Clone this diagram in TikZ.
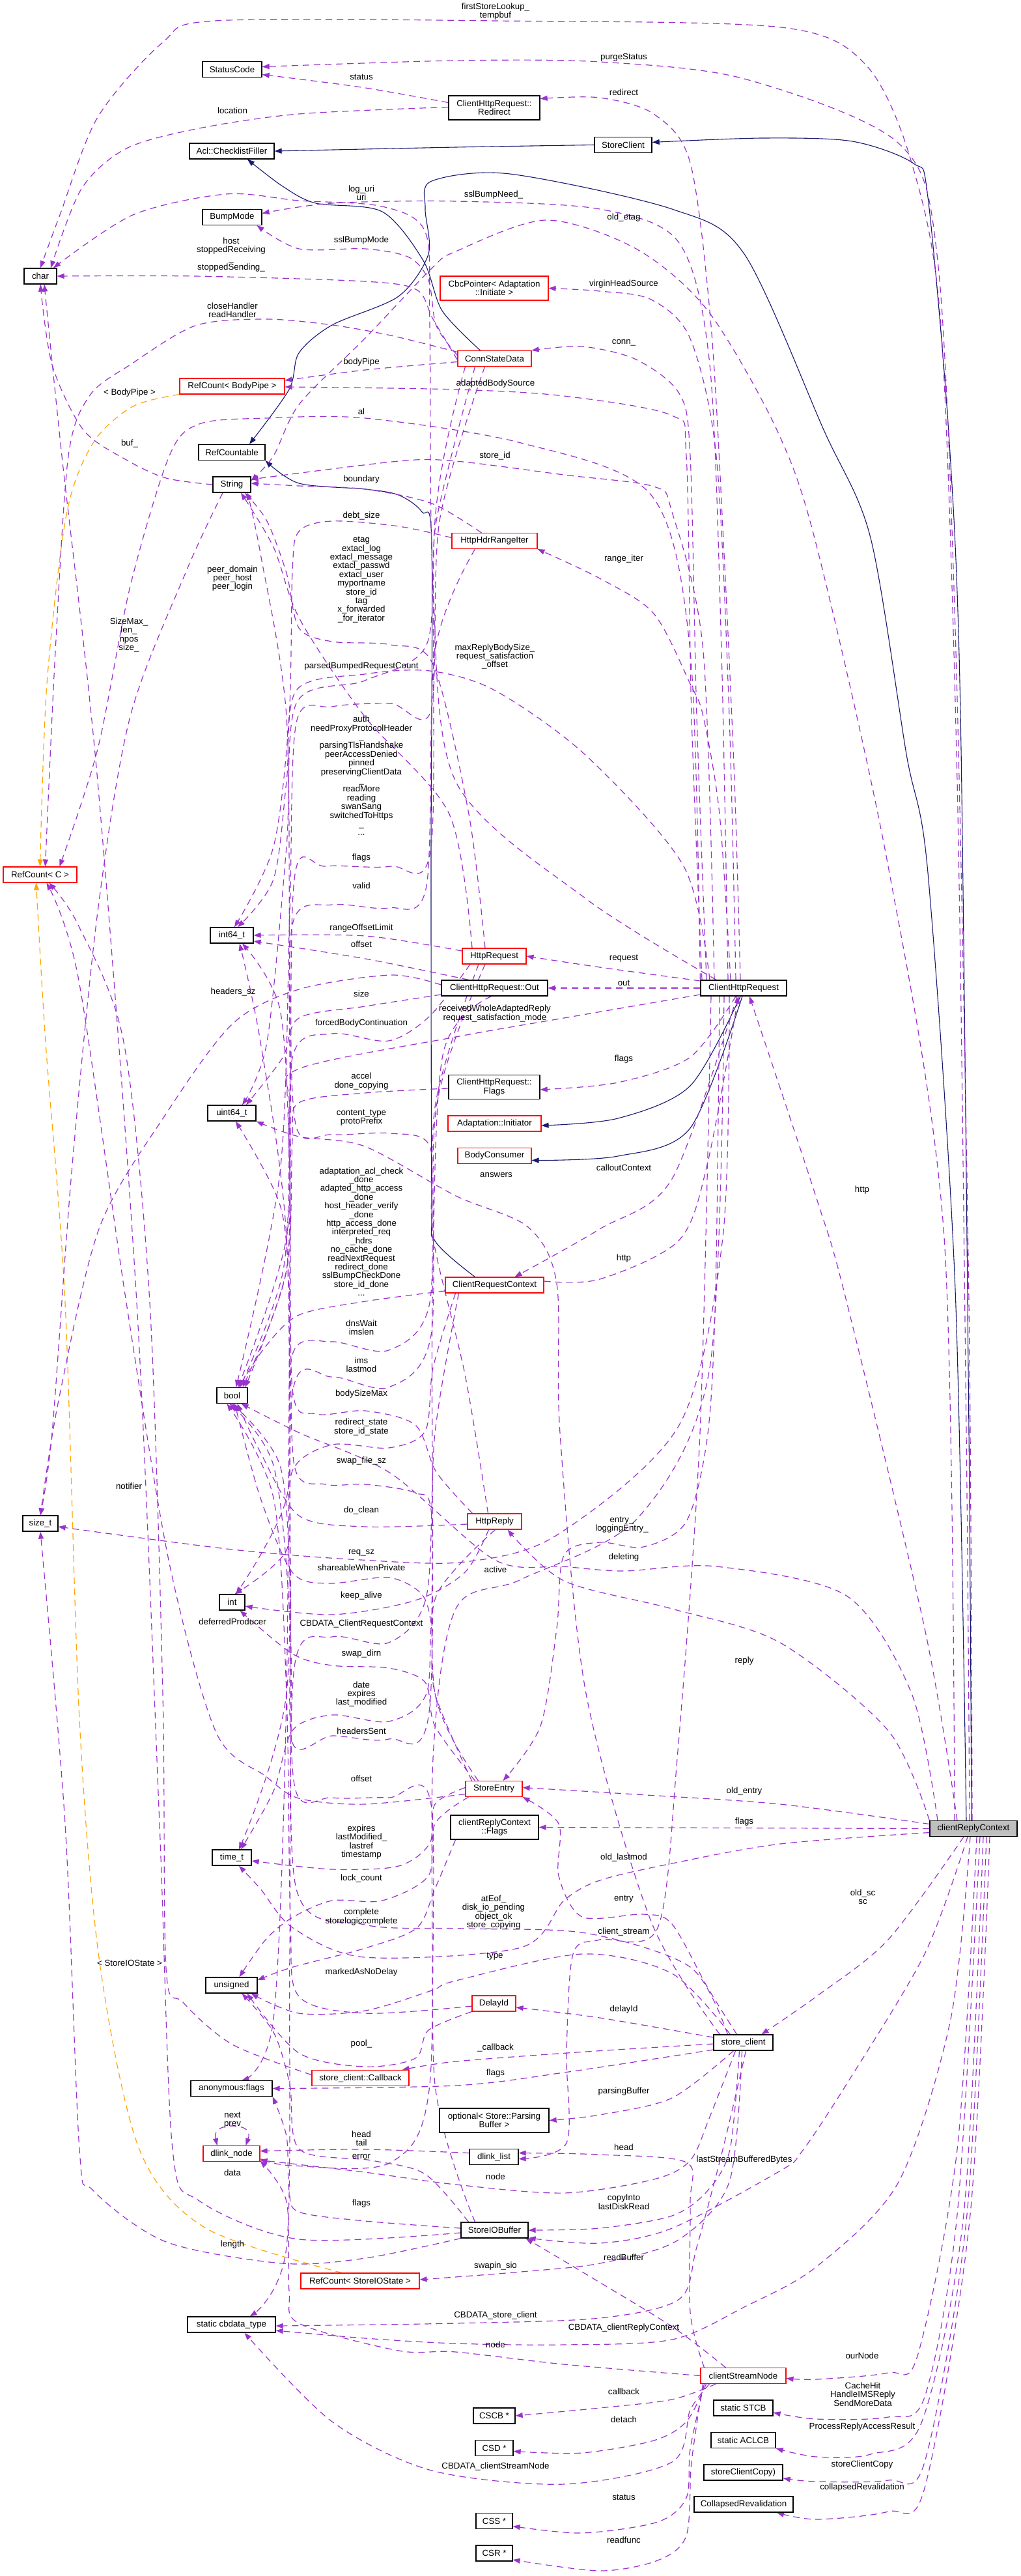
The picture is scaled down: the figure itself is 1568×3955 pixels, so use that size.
\documentclass[tikz,border=0pt]{standalone}
\usepackage{fontspec}
\setmainfont{Liberation Sans}
\usetikzlibrary{arrows.meta}
\definecolor{edgepurple}{HTML}{9A32CD}
\definecolor{edgenavy}{HTML}{191970}
\definecolor{edgeorange}{HTML}{FFA500}
\newcommand\dxfont{\fontsize{13.3pt}{13.4pt}\selectfont}
\pgfdeclarelayer{background}
\pgfsetlayers{background,main}

\begin{document}
\begin{tikzpicture}[x=1pt, y=-1pt,
    dxnode/.style={draw=black, line width=1.3pt, fill=white, font=\dxfont, align=center, inner xsep=2pt, inner ysep=2pt, minimum height=24pt},
    dxred/.style={dxnode, draw=red, line width=1.1pt},
    dxtwo/.style={minimum height=37pt},
    lbl/.style={font=\dxfont, align=center, inner sep=0pt},
    mem/.style={draw=edgepurple, line width=1.2pt, dash pattern=on 10pt off 7pt, -{Triangle[length=11pt,width=8pt]}},
    inh/.style={draw=edgenavy, line width=1.1pt, -{Triangle[length=11pt,width=8pt]}},
    tpl/.style={draw=edgeorange, line width=1.2pt, dash pattern=on 10pt off 7pt, -{Triangle[length=11pt,width=8pt]}}]

    \useasboundingbox (0,0) rectangle (1568,3955);

    % left column: member types
    \node[dxnode, minimum width=91pt] (statusCode) at (356.5,106.5) {StatusCode};
    \node[dxnode, minimum width=130pt] (checklistFiller) at (356,232) {Acl::ChecklistFiller};
    \node[dxnode, minimum width=91pt] (bumpMode) at (356.5,333.5) {BumpMode};
    \node[dxnode, minimum width=50pt] (charT) at (62,424) {char};
    \node[dxred, minimum width=161pt] (bodyPipeRef) at (356.5,593) {RefCount< BodyPipe >};
    \node[dxnode, minimum width=102pt] (refCountable) at (356,694.5) {RefCountable};
    \node[dxnode, minimum width=58pt] (stringT) at (356,744) {String};
    \node[dxred, minimum width=113pt] (refCountC) at (61.5,1343) {RefCount< C >};
    \node[dxnode, minimum width=66pt] (int64T) at (356,1436) {int64\_t};
    \node[dxnode, minimum width=74pt] (uint64T) at (356,1709) {uint64\_t};
    \node[dxnode, minimum width=47pt] (boolT) at (356.5,2142.5) {bool};
    \node[dxnode, minimum width=54pt] (sizeT) at (62,2339) {size\_t};
    \node[dxnode, minimum width=39pt] (intT) at (356.5,2460) {int};
    \node[dxnode, minimum width=60pt] (timeT) at (356,2852) {time\_t};
    \node[dxnode, minimum width=79pt] (unsignedT) at (355.5,3048) {unsigned};
    \node[dxnode, minimum width=125pt] (anonFlags) at (355.5,3206.5) {anonymous:flags};
    \node[dxred, minimum width=87pt] (dlinkNode) at (355.5,3306.5) {dlink\_node};
    \node[dxnode, minimum width=135pt] (cbdataType) at (355.5,3569) {static cbdata\_type};
    \node[dxred, minimum width=149pt] (callbackT) at (553.5,3190.5) {store\_client::Callback};
    \node[dxred, minimum width=182pt] (ioStateRef) at (553,3502) {RefCount< StoreIOState >};

    % middle column
    \node[dxnode, dxtwo, minimum width=140pt] (redirect) at (759,165.5) {ClientHttpRequest::\\Redirect};
    \node[dxred, dxtwo, minimum width=166pt] (cbcPointer) at (759,442.5) {CbcPointer< Adaptation\\::Initiate >};
    \node[dxred, minimum width=113pt] (connStateData) at (759.5,550.5) {ConnStateData};
    \node[dxred, minimum width=131pt] (rangeIter) at (759.5,830.5) {HttpHdrRangeIter};
    \node[dxred, minimum width=98pt] (httpRequest) at (759,1468) {HttpRequest};
    \node[dxnode, minimum width=163pt] (outT) at (759.5,1517) {ClientHttpRequest::Out};
    \node[dxnode, dxtwo, minimum width=140pt] (reqFlags) at (759,1669) {ClientHttpRequest::\\Flags};
    \node[dxred, minimum width=143pt] (initiator) at (759.5,1725) {Adaptation::Initiator};
    \node[dxred, minimum width=113pt] (bodyConsumer) at (759.5,1774.5) {BodyConsumer};
    \node[dxred, minimum width=151pt] (requestContext) at (759.5,1973) {ClientRequestContext};
    \node[dxred, minimum width=83pt] (httpReply) at (759.5,2336) {HttpReply};
    \node[dxred, minimum width=87pt] (storeEntry) at (758.5,2746.5) {StoreEntry};
    \node[dxnode, dxtwo, minimum width=135pt] (replyFlags) at (759.5,2805.5) {clientReplyContext\\::Flags};
    \node[dxred, minimum width=67pt] (delayId) at (758.5,3076) {DelayId};
    \node[dxnode, dxtwo, minimum width=168pt] (parsingBuf) at (759,3255.5) {optional< Store::Parsing\\Buffer >};
    \node[dxnode, minimum width=75pt] (dlinkList) at (758.5,3311.5) {dlink\_list};
    \node[dxnode, minimum width=103pt] (ioBuffer) at (759.5,3424) {StoreIOBuffer};
    \node[dxnode, minimum width=64pt] (cscb) at (759,3709) {CSCB *};
    \node[dxnode, minimum width=58pt] (csd) at (759,3758.5) {CSD *};
    \node[dxnode, minimum width=56pt] (css) at (759,3870.5) {CSS *};
    \node[dxnode, minimum width=56pt] (csr) at (759,3920) {CSR *};

    % right columns
    \node[dxnode, minimum width=88pt] (storeClientBase) at (957,222.5) {StoreClient};
    \node[dxnode, minimum width=132pt] (httpClient) at (1142,1517) {ClientHttpRequest};
    \node[dxnode, minimum width=91pt] (storeClient) at (1141.5,3136) {store\_client};
    \node[dxred, minimum width=131pt] (streamNode) at (1141.5,3647.5) {clientStreamNode};
    \node[dxnode, minimum width=91pt] (stcb) at (1141.5,3697) {static STCB};
    \node[dxnode, minimum width=99pt] (aclcb) at (1141.5,3746.5) {static ACLCB};
    \node[dxnode, minimum width=121pt] (copyFn) at (1141.5,3796) {storeClientCopy)};
    \node[dxnode, minimum width=152pt] (collapsedReval) at (1142,3845) {CollapsedRevalidation};
    \node[dxnode, fill=black!25, minimum width=134pt] (replyContext) at (1495,2807.5) {clientReplyContext};

    \begin{pgfonlayer}{background}
    \fill[white] (0,0) rectangle (1568,3955);

    % inheritance
    \draw[inh] plot[smooth] coordinates {(storeClientBase.west) (700,226) (checklistFiller.east)};
    \draw[inh] plot[smooth] coordinates {([xshift=-3pt]replyContext.north) (1488,2200) (1475,1094) (1458,680) (1425,303) (1403,251) (1309,217) (1171,212) ([yshift=4pt]storeClientBase.east)};
    \draw[inh] plot[smooth] coordinates {([xshift=-11pt]replyContext.north) (1467,1980) (1425,1340) (1392,1158) (1337,826) (1265,660) (1143,390) (1032,321) (783,267) (663,278) (653,320) (658,390) (612,455) (510,499) (459,542) (444,598) ([xshift=27pt]refCountable.north)};
    \draw[inh] plot[smooth] coordinates {([xshift=-30pt]requestContext.north) (668,1905) (663,1840) (662,1320) (663,834) (648,786) (612,760) (561,751) (459,742) (refCountable.south east)};
    \draw[inh] plot[smooth] coordinates {([xshift=-22pt]connStateData.north) (679,477) (650,400) (587,325) (485,312) (434,286) ([xshift=24pt]checklistFiller.south)};
    \draw[inh] plot[smooth] coordinates {([xshift=-5pt]httpClient.south) (1060,1667) (949,1717) ([yshift=-3pt]initiator.east)};
    \draw[inh] plot[smooth] coordinates {([xshift=-2pt]httpClient.south) (1060,1732) (949,1775) ([yshift=-7pt]bodyConsumer.east)};

    % template instances
    \draw[tpl] plot[smooth] coordinates {(bodyPipeRef.south west) (204,624) (143,680) (102,790) (72,1050) (refCountC.north)};
    \draw[tpl] plot[smooth] coordinates {([xshift=-28pt]ioStateRef.north) (316,3421) (214,3300) (153,3013) (122,2640) (100,2000) (70,1600) ([xshift=-6pt]refCountC.south)};

    % members, upper part
    \draw[mem] plot[smooth] coordinates {([xshift=-6pt]replyContext.north) (1484,2200) (1470,1200) (1445,500) (1400,250) (1330,100) (1200,42) (761,32) (330,32) (250,65) (150,180) (92,330) (charT.north)};
    \draw[mem] plot[smooth] coordinates {([xshift=-2pt]replyContext.north) (1488,2000) (1468,1000) (1440,400) (1380,220) (1143,121) (921,95) (700,93) ([yshift=4pt]statusCode.east)};
    \draw[mem] plot[smooth] coordinates {([yshift=8pt]redirect.west) (555,134) ([yshift=-8pt]statusCode.east)};
    \draw[mem] plot[smooth] coordinates {([yshift=1pt]redirect.west) (459,175) (306,197) (194,228) (125,290) ([xshift=16pt]charT.north)};
    \draw[mem] plot[smooth] coordinates {([xshift=-5pt]httpClient.north) (1128,1200) (1112,850) (1092,500) (1060,250) (1004,175) (921,150) ([yshift=14pt]redirect.east)};
    \draw[mem] plot[smooth] coordinates {([xshift=-42pt]httpClient.north) (900,1380) (700,1200) (665,900) (660,500) (653,356) (587,317) (459,308) (347,298) (204,330) ([xshift=20pt]charT.north)};
    \draw[mem] plot[smooth] coordinates {([xshift=-24pt]httpClient.north) (1108,1000) (1090,560) (1043,373) (921,321) (700,309) (510,312) ([yshift=6pt]bumpMode.east)};
    \draw[mem] plot[smooth] coordinates {([xshift=-29pt]replyContext.north) (1450,1900) (1364,1330) (1254,838) (1193,660) (1087,477) (977,382) (838,338) (700,386) (663,412) (560,520) (460,620) (420,700) ([yshift=6pt]stringT.east)};
    \draw[mem] plot[smooth] coordinates {([yshift=5pt]connStateData.west) (670,500) (658,430) (628,395) (561,382) (459,382) ([xshift=38pt]bumpMode.south)};
    \draw[mem] plot[smooth] coordinates {([yshift=-2pt]connStateData.west) (665,490) (640,445) (560,432) (300,424) (charT.east)};
    \draw[mem] plot[smooth] coordinates {([xshift=-12pt]httpClient.north) (1120,1100) (1100,700) (1060,520) (1000,460) (921,447) (cbcPointer.east)};
    \draw[mem] plot[smooth] coordinates {([yshift=10pt]connStateData.west) (600,515) (510,499) (408,490) (300,500) (200,560) (138,607) (105,700) (85,1000) ([xshift=8pt]refCountC.north)};
    \draw[mem] plot[smooth] coordinates {([xshift=-57pt]httpClient.north) (1070,1100) (1060,700) (1043,604) (977,552) (894,532) (connStateData.north east)};
    \draw[mem] plot[smooth] coordinates {([yshift=-5pt]connStateData.west) (561,568) ([yshift=9pt]bodyPipeRef.east)};
    \draw[mem] plot[smooth] coordinates {([xshift=-64pt]httpClient.north) (1062,1100) (1054,700) (1032,638) (866,608) (700,598) ([yshift=-1pt]bodyPipeRef.east)};
    \draw[mem] plot[smooth] coordinates {(httpClient.north west) (1060,1000) (1000,760) (800,680) (561,642) (408,642) (306,651) (260,700) (200,900) (150,1150) ([xshift=30pt]refCountC.north)};
    \draw[mem] plot[smooth] coordinates {(stringT.west) (255,734) (194,706) (128,660) (80,560) (charT.south)};
    \draw[mem] plot[smooth] coordinates {([xshift=-45pt]httpClient.north) (1080,1000) (1032,786) (1004,747) (866,729) (700,708) (612,708) ([yshift=8pt]stringT.east)};
    \draw[mem] plot[smooth] coordinates {([xshift=-20pt]rangeIter.north) (663,773) (561,751) (459,746) ([yshift=2pt]stringT.east)};
    \draw[mem] plot[smooth] coordinates {([xshift=-20pt]httpClient.north) (1105,1250) (1080,1100) (1060,1050) (1004,942) (921,888) (rangeIter.south east)};
    \draw[mem] plot[smooth] coordinates {([yshift=5pt]rangeIter.west) (612,808) (510,800) (459,816) (449,877) (444,1100) (420,1300) ([xshift=4pt]int64T.north)};
    \draw[mem] plot[smooth] coordinates {([xshift=-34pt]httpRequest.north) (690,1250) (560,1100) (460,950) (420,840) ([xshift=14pt]stringT.south)};
    \draw[mem] plot[smooth] coordinates {([xshift=-14pt]httpRequest.north) (720,1250) (665,1020) (600,990) (510,985) (459,964) (440,880) (410,800) ([xshift=20pt]stringT.south)};
    \draw[mem] plot[smooth] coordinates {([xshift=-14pt]stringT.south) (286,877) (200,1100) (150,1400) (110,1800) (80,2200) (sizeT.north)};
    \draw[mem] plot[smooth] coordinates {([xshift=-52pt]httpClient.north) (1050,1330) (900,1160) (760,1060) (660,1030) (560,1035) (455,1060) (440,1200) (420,1350) ([xshift=9pt]int64T.north)};
    \draw[mem] plot[smooth] coordinates {([xshift=-30pt]connStateData.south) (670,800) (655,990) (560,1045) (455,1080) (440,1300) (410,1600) ([xshift=16pt]uint64T.north)};
    \draw[mem] plot[smooth] coordinates {([xshift=-15pt]connStateData.south) (675,800) (662,1090) (600,1080) (510,1085) (455,1110) (445,1400) (430,1800) ([xshift=6pt]boolT.north)};
    \draw[mem] plot[smooth] coordinates {([xshift=-45pt]connStateData.south) (668,800) (662,1300) (600,1330) (500,1330) (452,1350) (446,1800) (440,2600) (420,3100) ([xshift=16pt]anonFlags.north)};
    \draw[mem] plot[smooth] coordinates {([xshift=-30pt]rangeIter.south) (668,1000) (655,1360) (597,1394) (510,1389) (449,1420) (445,1700) (435,1950) ([xshift=12pt]boolT.north)};

    % members, middle part
    \draw[mem] plot[smooth] coordinates {([yshift=8pt]httpRequest.west) (561,1437) (int64T.east)};
    \draw[mem] plot[smooth] coordinates {([xshift=-40pt]outT.north) (561,1472) ([yshift=-9pt]int64T.east)};
    \draw[mem] plot[smooth] coordinates {([yshift=5pt]outT.west) (600,1497) (459,1519) (357,1572) (255,1710) (153,1884) (90,2150) (sizeT.north)};
    \draw[mem] plot[smooth] coordinates {([yshift=-10pt]outT.west) (561,1545) (459,1563) (434,1624) ([xshift=22pt]uint64T.north)};
    \draw[mem] plot[smooth] coordinates {([xshift=-37pt]httpRequest.south) (660,1560) (597,1598) (510,1587) (449,1624) (440,1900) ([xshift=9pt]boolT.north)};
    \draw[mem] plot[smooth] coordinates {([yshift=-10pt]httpClient.west) (866,1563) (700,1592) (459,1641) (444,1700) (440,1950) ([xshift=16pt]boolT.north)};
    \draw[mem] plot[smooth] coordinates {([yshift=11pt]httpClient.west) (921,1485) (httpRequest.east)};
    \draw[mem] (httpClient.west) -- (outT.east);
    \draw[mem] plot[smooth] coordinates {([xshift=-12pt]httpClient.south) (1060,1623) (949,1662) ([yshift=-4pt]reqFlags.east)};
    \draw[mem] plot[smooth] coordinates {([yshift=-2pt]reqFlags.west) (561,1678) (459,1693) (449,1750) (440,1950) ([xshift=20pt]boolT.north)};
    \draw[mem] plot[smooth] coordinates {([xshift=-10pt]httpReply.north) (714,2110) (665,1900) (660,1760) (600,1740) (510,1742) (455,1730) (445,1500) (440,1100) (400,850) ([xshift=24pt]stringT.south)};
    \draw[mem] plot[smooth] coordinates {([yshift=-9pt]requestContext.west) (561,1998) (459,2019) (408,2067) ([xshift=10pt]boolT.north)};
    \draw[mem] plot[smooth] coordinates {([xshift=-10pt]httpClient.south) (1032,1810) (921,1887) ([xshift=31pt]requestContext.north)};
    \draw[mem] plot[smooth] coordinates {([yshift=6pt]requestContext.east) (921,1964) (1043,1904) (1087,1784) ([xshift=-8pt]httpClient.south)};
    \draw[mem] plot[smooth] coordinates {([xshift=-25pt]replyContext.north) (1420,2500) (1298,1990) (1254,1840) ([xshift=9pt]httpClient.south)};
    \draw[mem] plot[smooth] coordinates {([xshift=-24pt]httpRequest.south) (668,1700) (660,2000) (597,2073) (510,2060) (449,2080) (440,2300) ([xshift=6pt]intT.north)};
    \draw[mem] plot[smooth] coordinates {([xshift=-14pt]httpRequest.south) (670,1700) (662,2050) (597,2130) (510,2114) (449,2140) (440,2600) ([xshift=11pt]timeT.north)};
    \draw[mem] plot[smooth] coordinates {([xshift=-34pt]httpReply.north) (670,2260) (638,2188) (561,2166) (485,2171) (449,2132) (445,1800) (430,1550) ([xshift=16pt]int64T.south)};
    \draw[mem] plot[smooth] coordinates {([xshift=-60pt]requestContext.south) (665,2100) (653,2197) (597,2223) (510,2218) (449,2258) (440,2380) ([xshift=4pt]intT.north)};
    \draw[mem] plot[smooth] coordinates {([xshift=-24pt]storeEntry.north) (668,2600) (663,2327) (638,2292) (561,2279) (500,2279) (452,2250) (445,2000) (430,1850) ([xshift=6pt]uint64T.south)};
    \draw[mem] plot[smooth] coordinates {([yshift=-4pt]httpReply.west) (561,2344) (459,2327) (400,2230) ([xshift=8pt]boolT.south)};
    \draw[mem] plot[smooth] coordinates {([xshift=-22pt]httpClient.south) (1110,1900) (1043,2188) (855,2357) (714,2398) (555,2395) (357,2379) ([yshift=-5pt]sizeT.east)};
    \draw[mem] plot[smooth] coordinates {([xshift=-34pt]storeEntry.north) (668,2600) (663,2500) (648,2448) (597,2422) (505,2431) (449,2414) (400,2300) ([xshift=4pt]boolT.south)};
    \draw[mem] plot[smooth] coordinates {([xshift=-9pt]httpReply.south) (714,2414) (638,2457) (510,2479) ([yshift=-6pt]intT.east)};
    \draw[mem] plot[smooth] coordinates {([yshift=-8pt]storeEntry.west) (561,2770) (459,2761) (408,2727) (332,2660) (260,2400) (194,2000) (120,1500) ([xshift=10pt]refCountC.south)};
    \draw[mem] plot[smooth] coordinates {([xshift=-55pt]requestContext.south) (668,2200) (655,2450) (597,2522) (510,2513) (452,2560) (445,3000) (440,3450) ([xshift=28pt]cbdataType.north)};
    \draw[mem] plot[smooth] coordinates {([xshift=-29pt]storeEntry.north) (668,2650) (653,2583) (597,2561) (510,2557) (449,2539) ([xshift=12pt]intT.south)};
    \draw[mem] plot[smooth] coordinates {([xshift=1pt]httpReply.south) (670,2450) (655,2600) (597,2643) (510,2633) (449,2657) (420,2750) ([xshift=14pt]timeT.north)};
    \draw[mem] plot[smooth] coordinates {([xshift=-5pt]outT.south) (680,1620) (664,2000) (660,2620) (597,2670) (510,2665) (449,2675) (446,2450) (430,2250) (boolT.south)};
    \draw[mem] plot[smooth] coordinates {([xshift=-37pt]httpClient.south) (1099,1980) (1087,2201) (1054,2336) (988,2375) (921,2368) (866,2388) (855,2500) (830,2650) ([xshift=14pt]storeEntry.north)};
    \draw[mem] plot[smooth] coordinates {([xshift=-55pt]replyContext.north) (1400,2600) (1300,2450) (1100,2405) (958,2412) (866,2405) (760,2395) (600,2262) (460,2200) ([xshift=14pt]boolT.south)};
    \draw[mem] plot[smooth] coordinates {([xshift=-30pt]httpClient.south) (1090,2100) (980,2330) (800,2425) (700,2470) (665,2700) (660,3200) (600,3320) (450,3325) ([yshift=-8pt]dlinkNode.east)};
    \draw[mem] plot[smooth] coordinates {(replyContext.north west) (1364,2657) (1198,2522) (1032,2470) (866,2427) ([xshift=20pt]httpReply.south)};
    \draw[mem] plot[smooth] coordinates {([xshift=-36pt]storeClient.north) (1000,2950) (900,2600) (860,2200) (855,1971) (811,1884) (700,1836) (560,1760) (459,1745) (uint64T.south east)};

    % members, lower part
    \draw[mem] plot[smooth] coordinates {([xshift=-30pt]ioBuffer.north) (668,3200) (662,2770) (597,2760) (510,2760) (452,2740) (446,2400) (440,1900) (400,1600) ([xshift=12pt]int64T.south)};
    \draw[mem] plot[smooth] coordinates {([yshift=7pt]replyContext.west) (1198,2770) (977,2755) ([yshift=2pt]storeEntry.east)};
    \draw[mem] (replyContext.west) -- (replyFlags.east);
    \draw[mem] plot[smooth] coordinates {([yshift=2pt]storeEntry.west) (668,2770) (660,2830) (612,2865) (510,2870) ([yshift=-5pt]timeT.east)};
    \draw[mem] plot[smooth] coordinates {([yshift=-6pt]replyContext.west) (1198,2831) (1032,2861) (921,2887) (866,2918) (800,2990) (560,3005) (450,2960) (400,2900) ([xshift=11pt]timeT.south)};
    \draw[mem] plot[smooth] coordinates {([xshift=-39pt]storeEntry.south) (668,2800) (658,2880) (587,2918) (510,2918) (449,2944) (408,2978) ([xshift=12pt]unsignedT.north)};
    \draw[mem] plot[smooth] coordinates {([xshift=-60pt]replyFlags.south) (668,2900) (640,2960) (561,2991) (450,3020) ([yshift=8pt]unsignedT.east)};
    \draw[mem] plot[smooth] coordinates {([xshift=-24pt]storeClient.north) (1060,3020) (900,2968) (714,2961) (560,2955) (455,2900) (446,2500) (420,2250) ([xshift=-4pt]boolT.south)};
    \draw[mem] plot[smooth] coordinates {([xshift=-10pt]storeClient.north) (1087,3052) (1032,2954) (988,2939) (894,2943) (858,2880) (858,2800) (storeEntry.south east)};
    \draw[mem] plot[smooth] coordinates {([xshift=-50pt]httpClient.south) (1075,2200) (1040,2700) (1010,2960) (921,2978) (880,3000) (870,3150) (870,3290) ([yshift=-3pt]dlinkList.east)};
    \draw[mem] plot[smooth] coordinates {([xshift=-20pt]storeClient.north) (1032,3030) (894,3000) (700,3041) (663,3056) (561,3087) (459,3091) ([xshift=30pt]unsignedT.south)};
    \draw[mem] plot[smooth] coordinates {([yshift=-4pt]delayId.west) (561,3091) (459,3065) (446,2950) (440,2600) (420,2300) ([xshift=-8pt]boolT.south)};
    \draw[mem] plot[smooth] coordinates {([yshift=8pt]storeClient.west) (921,3098) ([yshift=-6pt]delayId.east)};
    \draw[mem] plot[smooth] coordinates {([xshift=-15pt]replyContext.south) (1364,2978) (1254,3065) ([xshift=28pt]storeClient.north)};
    \draw[mem] plot[smooth] coordinates {(delayId.south west) (658,3117) (638,3160) (561,3173) (459,3152) ([xshift=24pt]unsignedT.south)};
    \draw[mem] plot[smooth] coordinates {([yshift=-2pt]storeClient.west) (900,3150) (700,3165) ([xshift=64pt]callbackT.north)};
    \draw[mem] plot[smooth] coordinates {([yshift=-11pt]storeClient.west) (866,3182) (700,3202) (anonFlags.east)};
    \draw[mem] plot[smooth] coordinates {([xshift=-15pt]storeClient.south) (1032,3221) (921,3247) (parsingBuf.east)};
    \draw[mem, {Triangle[length=11pt,width=8pt]}-{Triangle[length=11pt,width=8pt]}] ([xshift=-22pt]dlinkNode.north) .. controls (328,3270) and (340,3264) .. (357,3264) .. controls (374,3264) and (386,3270) .. ([xshift=22pt]dlinkNode.north);
    \draw[mem] plot[smooth] coordinates {([yshift=6pt]dlinkList.west) (561,3300) ([yshift=4pt]dlinkNode.east)};
    \draw[mem] plot[smooth] coordinates {([xshift=-60pt]streamNode.north) (1060,3550) (1060,3383) (1054,3320) (921,3308) ([yshift=6pt]dlinkList.east)};
    \draw[mem] plot[smooth] coordinates {([xshift=-9pt]replyContext.south) (1420,3000) (1300,3200) (1231,3304) (1198,3333) (1032,3421) (921,3444) ([yshift=-12pt]ioBuffer.east)};
    \draw[mem] plot[smooth] coordinates {([xshift=-40pt]ioBuffer.north) (653,3338) (571,3317) (460,3300) (445,3200) (420,3120) ([xshift=16pt]unsignedT.south)};
    \draw[mem] plot[smooth] coordinates {([yshift=-4pt]ioBuffer.west) (459,3438) (306,3379) (265,3300) (245,2800) (210,2000) (150,1200) (95,700) ([xshift=6pt]charT.south)};
    \draw[mem] plot[smooth] coordinates {([xshift=-12pt]storeClient.south) (1090,3250) (1060,3317) (1004,3346) (866,3367) (700,3354) (560,3335) ([yshift=-10pt]dlinkNode.east)};
    \draw[mem] plot[smooth] coordinates {([xshift=-6pt]storeClient.south) (1121,3300) (1087,3363) (1032,3402) (921,3421) (ioBuffer.east)};
    \draw[mem] plot[smooth] coordinates {([yshift=3pt]ioBuffer.west) (561,3410) (459,3396) (444,3363) (440,3280) (anonFlags.south east)};
    \draw[mem] plot[smooth] coordinates {(ioBuffer.south west) (561,3467) (434,3475) (255,3442) (143,3363) (122,3300) (100,2800) (sizeT.south)};
    \draw[mem] plot[smooth] coordinates {([xshift=-27pt]streamNode.north) (1032,3572) (894,3488) ([xshift=48pt]ioBuffer.south)};
    \draw[mem] plot[smooth] coordinates {([xshift=-2pt]storeClient.south) (1120,3350) (1040,3440) (921,3475) (800,3488) ([yshift=2pt]ioStateRef.east)};
    \draw[mem] plot[smooth] coordinates {([xshift=4pt]storeClient.south) (1110,3300) (1070,3450) (1043,3530) (921,3559) (700,3567) ([yshift=-2pt]cbdataType.east)};
    \draw[mem] plot[smooth] coordinates {([xshift=-5pt]replyContext.south) (1460,3100) (1380,3350) (1254,3480) (1143,3542) (1032,3592) (866,3600) (700,3598) (561,3590) ([yshift=-9pt]cbdataType.east)};
    \draw[mem] plot[smooth] coordinates {(streamNode.west) (866,3630) (700,3611) (612,3609) (459,3567) (444,3517) (440,3380) ([yshift=-11pt]dlinkNode.east)};
    \draw[mem] plot[smooth] coordinates {([xshift=-52pt]streamNode.south) (1060,3700) (1032,3780) (866,3814) (663,3793) (510,3718) ([xshift=20pt]cbdataType.south)};
    \draw[mem] plot[smooth] coordinates {([xshift=-42pt]streamNode.south) (1032,3684) (921,3697) (cscb.east)};
    \draw[mem] plot[smooth] coordinates {([xshift=-57pt]streamNode.south) (1054,3718) (1004,3747) (894,3766) ([yshift=-5pt]csd.east)};
    \draw[mem] plot[smooth] coordinates {([xshift=-60pt]streamNode.south) (1060,3760) (1054,3835) (1010,3872) (894,3889) ([yshift=-8pt]css.east)};
    \draw[mem] plot[smooth] coordinates {([xshift=-62pt]streamNode.south) (1062,3780) (1054,3893) (1010,3931) (921,3947) ([yshift=-10pt]csr.east)};
    \draw[mem] plot[smooth] coordinates {([xshift=5pt]replyContext.south) (1470,3300) (1409,3617) (1364,3643) (1254,3653) ([yshift=-4pt]streamNode.east)};
    \draw[mem] plot[smooth] coordinates {([xshift=10pt]replyContext.south) (1470,3400) (1420,3680) (1364,3711) (1254,3714) ([yshift=-7pt]stcb.east)};
    \draw[mem] plot[smooth] coordinates {([xshift=15pt]replyContext.south) (1480,3400) (1415,3720) (1337,3768) (1254,3772) (aclcb.south east)};
    \draw[mem] plot[smooth] coordinates {([xshift=20pt]replyContext.south) (1485,3400) (1420,3780) (1364,3808) (1254,3810) ([yshift=-9pt]copyFn.east)};
    \draw[mem] plot[smooth] coordinates {([xshift=25pt]replyContext.south) (1490,3400) (1420,3820) (1364,3856) (1254,3868) ([xshift=51pt]collapsedReval.south)};
    \draw[mem] plot[smooth] coordinates {([yshift=5pt]callbackT.west) (357,3139) (281,3074) (255,3022) (250,2600) (230,2000) (190,1600) (120,1420) ([xshift=14pt]refCountC.south)};
    \end{pgfonlayer}

    % edge labels
    \node[lbl] (lFirst) at (761,17.5) {firstStoreLookup\_\\tempbuf};
    \node[lbl] (lPurge) at (958,88) {purgeStatus};
    \node[lbl] (lStatus) at (555,118) {status};
    \node[lbl] (lLocation) at (357,170) {location};
    \node[lbl] (lRedirect) at (958,142) {redirect};
    \node[lbl] (lLogUri) at (555,296) {log\_uri\\uri};
    \node[lbl] (lBumpNeed) at (758,299) {sslBumpNeed\_};
    \node[lbl] (lOldEtag) at (958,334) {old\_etag};
    \node[lbl] (lBumpMode) at (555,369) {sslBumpMode};
    \node[lbl] (lHost) at (355,391) {host\\stoppedReceiving\\\_\\stoppedSending\_};
    \node[lbl] (lVirgin) at (958,436) {virginHeadSource};
    \node[lbl] (lClose) at (357,476) {closeHandler\\readHandler};
    \node[lbl] (lConn) at (958,526) {conn\_};
    \node[lbl] (lBodyPipe) at (555,556) {bodyPipe};
    \node[lbl] (lTplBody) at (199,603) {< BodyPipe >};
    \node[lbl] (lAdapted) at (761,589) {adaptedBodySource};
    \node[lbl] (lAl) at (555,632) {al};
    \node[lbl] (lBuf) at (199,681) {buf\_};
    \node[lbl] (lStoreId) at (760,700) {store\_id};
    \node[lbl] (lBoundary) at (555,736) {boundary};
    \node[lbl] (lDebt) at (555,792) {debt\_size};
    \node[lbl] (lEtag) at (555,890) {etag\\extacl\_log\\extacl\_message\\extacl\_passwd\\extacl\_user\\myportname\\store\_id\\tag\\x\_forwarded\\\_for\_iterator};
    \node[lbl] (lPeer) at (357,888) {peer\_domain\\peer\_host\\peer\_login};
    \node[lbl] (lRangeIter) at (958,858) {range\_iter};
    \node[lbl] (lSizeMax) at (198,975) {SizeMax\_\\len\_\\npos\\size\_};
    \node[lbl] (lMaxReply) at (760,1008) {maxReplyBodySize\_\\request\_satisfaction\\\_offset};
    \node[lbl] (lParsed) at (555,1023) {parsedBumpedRequestCount};
    \node[lbl] (lAuth) at (555,1191) {auth\\needProxyProtocolHeader\\\_\\parsingTlsHandshake\\peerAccessDenied\\pinned\\preservingClientData\\\_\\readMore\\reading\\swanSang\\switchedToHttps\\\_\\...};
    \node[lbl] (lFlagsConn) at (555,1317) {flags};
    \node[lbl] (lValid) at (555,1360) {valid};
    \node[lbl] (lRangeOffset) at (555,1425) {rangeOffsetLimit};
    \node[lbl] (lOffsetOut) at (555,1450) {offset};
    \node[lbl] (lHeadersSz) at (358,1523) {headers\_sz};
    \node[lbl] (lSize) at (555,1526) {size};
    \node[lbl] (lForced) at (555,1571) {forcedBodyContinuation};
    \node[lbl] (lReceived) at (760,1556) {receivedWholeAdaptedReply\\request\_satisfaction\_mode};
    \node[lbl] (lRequest) at (958,1472) {request};
    \node[lbl] (lOut) at (958,1509) {out};
    \node[lbl] (lFlagsReq) at (958,1626) {flags};
    \node[lbl] (lAccel) at (555,1660) {accel\\done\_copying};
    \node[lbl] (lContent) at (555,1716) {content\_type\\protoPrefix};
    \node[lbl] (lAnswers) at (762,1804) {answers};
    \node[lbl] (lCallout) at (958,1793) {calloutContext};
    \node[lbl] (lAdaptation) at (555,1891) {adaptation\_acl\_check\\\_done\\adapted\_http\_access\\\_done\\host\_header\_verify\\\_done\\http\_access\_done\\interpreted\_req\\\_hdrs\\no\_cache\_done\\readNextRequest\\redirect\_done\\sslBumpCheckDone\\store\_id\_done\\...};
    \node[lbl] (lHttpA) at (958,1932) {http};
    \node[lbl] (lHttpB) at (1324,1827) {http};
    \node[lbl] (lDnsWait) at (555,2038) {dnsWait\\imslen};
    \node[lbl] (lIms) at (555,2095) {ims\\lastmod};
    \node[lbl] (lBodySizeMax) at (555,2140) {bodySizeMax};
    \node[lbl] (lRedirState) at (555,2191) {redirect\_state\\store\_id\_state};
    \node[lbl] (lSwapFile) at (555,2243) {swap\_file\_sz};
    \node[lbl] (lNotifier) at (198,2282) {notifier};
    \node[lbl] (lDoClean) at (555,2319) {do\_clean};
    \node[lbl] (lEntryLog) at (955,2341) {entry\_\\loggingEntry\_};
    \node[lbl] (lReqSz) at (555,2384) {req\_sz};
    \node[lbl] (lDeleting) at (958,2391) {deleting};
    \node[lbl] (lShareable) at (555,2407) {shareableWhenPrivate};
    \node[lbl] (lActive) at (761,2410) {active};
    \node[lbl] (lKeepAlive) at (555,2450) {keep\_alive};
    \node[lbl] (lDeferred) at (357,2490) {deferredProducer};
    \node[lbl] (lCbdataCRC) at (555,2493) {CBDATA\_ClientRequestContext};
    \node[lbl] (lSwapDirn) at (555,2539) {swap\_dirn};
    \node[lbl] (lReply) at (1143,2550) {reply};
    \node[lbl] (lDate) at (555,2601) {date\\expires\\last\_modified};
    \node[lbl] (lHeadersSent) at (555,2658) {headersSent};
    \node[lbl] (lOffsetIO) at (555,2731) {offset};
    \node[lbl] (lOldEntry) at (1143,2750) {old\_entry};
    \node[lbl] (lFlagsReply) at (1143,2797) {flags};
    \node[lbl] (lExpires) at (555,2828) {expires\\lastModified\_\\lastref\\timestamp};
    \node[lbl] (lOldLastmod) at (958,2852) {old\_lastmod};
    \node[lbl] (lLockCount) at (555,2884) {lock\_count};
    \node[lbl] (lOldSc) at (1325,2912) {old\_sc\\sc};
    \node[lbl] (lAtEof) at (758,2936) {atEof\_\\disk\_io\_pending\\object\_ok\\store\_copying};
    \node[lbl] (lEntry) at (958,2916) {entry};
    \node[lbl] (lComplete) at (555,2943) {complete\\storelogiccomplete};
    \node[lbl] (lClientStream) at (958,2966) {client\_stream};
    \node[lbl] (lType) at (760,3004) {type};
    \node[lbl] (lTplIO) at (199,3014) {< StoreIOState >};
    \node[lbl] (lMarked) at (555,3028) {markedAsNoDelay};
    \node[lbl] (lDelayId) at (958,3085) {delayId};
    \node[lbl] (lPool) at (555,3138) {pool\_};
    \node[lbl] (lCallback) at (761,3144) {\_callback};
    \node[lbl] (lFlagsSC) at (761,3183) {flags};
    \node[lbl] (lParsing) at (958,3211) {parsingBuffer};
    \node[lbl] (lNextPrev) at (357,3255) {next\\prev};
    \node[lbl] (lHeadTail) at (555,3283) {head\\tail};
    \node[lbl] (lHead) at (958,3297) {head};
    \node[lbl] (lError) at (555,3311) {error};
    \node[lbl] (lLastStream) at (1143,3316) {lastStreamBufferedBytes};
    \node[lbl] (lData) at (357,3336) {data};
    \node[lbl] (lNodeSC) at (761,3342) {node};
    \node[lbl] (lCopyInto) at (958,3381) {copyInto\\lastDiskRead};
    \node[lbl] (lFlagsIO) at (555,3383) {flags};
    \node[lbl] (lLength) at (357,3446) {length};
    \node[lbl] (lReadBuffer) at (958,3466) {readBuffer};
    \node[lbl] (lSwapin) at (761,3479) {swapin\_sio};
    \node[lbl] (lCbdataSC) at (761,3555) {CBDATA\_store\_client};
    \node[lbl] (lCbdataReply) at (958,3574) {CBDATA\_clientReplyContext};
    \node[lbl] (lNodeCSN) at (761,3600) {node};
    \node[lbl] (lOurNode) at (1324,3617) {ourNode};
    \node[lbl] (lCacheHit) at (1325,3676) {CacheHit\\HandleIMSReply\\SendMoreData};
    \node[lbl] (lCallbackCSN) at (958,3672) {callback};
    \node[lbl] (lDetach) at (958,3715) {detach};
    \node[lbl] (lProcess) at (1324,3726) {ProcessReplyAccessResult};
    \node[lbl] (lCbdataCSN) at (761,3787) {CBDATA\_clientStreamNode};
    \node[lbl] (lStoreCopy) at (1324,3784) {storeClientCopy};
    \node[lbl] (lCollapsed) at (1324,3819) {collapsedRevalidation};
    \node[lbl] (lStatusCSN) at (958,3834) {status};
    \node[lbl] (lReadfunc) at (958,3900) {readfunc};
\end{tikzpicture}
\end{document}
